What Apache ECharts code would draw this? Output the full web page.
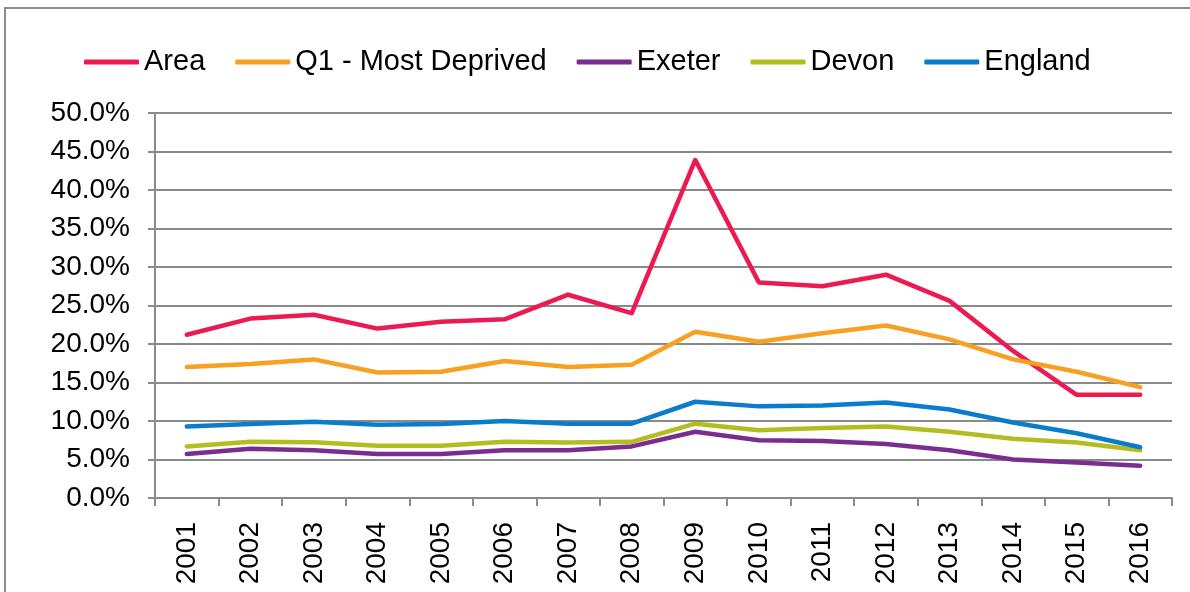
<!DOCTYPE html>
<html>
<head>
<meta charset="utf-8">
<script src="https://cdn.jsdelivr.net/npm/echarts@6/dist/echarts.min.js"></script>
<style>
  body { margin: 0; background: #fff; }
  #wrap { position: relative; width: 1190px; height: 592px; }
  #chart { width: 1190px; height: 592px; }
  #frame { position: absolute; left: 4px; top: 7px; right: -10px; bottom: -10px;
           border-left: 2px solid #8c8c8c; border-top: 2px solid #8c8c8c; pointer-events: none; }
</style>
</head>
<body>
<div id="wrap">
  <div id="chart"></div>
  <div id="frame"></div>
</div>
<script>
// values, in percent
const years = ['2001', '2002', '2003', '2004', '2005', '2006', '2007', '2008',
               '2009', '2010', '2011', '2012', '2013', '2014', '2015', '2016'];
const area    = [21.2, 23.3, 23.8, 22.0, 22.9, 23.2, 26.4, 24.0, 43.9, 28.0, 27.5, 29.0, 25.6, 19.1, 13.4, 13.4];
const q1      = [17.0, 17.4, 18.0, 16.3, 16.4, 17.8, 17.0, 17.3, 21.6, 20.3, 21.4, 22.4, 20.6, 18.0, 16.4, 14.4];
const exeter  = [5.7, 6.4, 6.2, 5.7, 5.7, 6.2, 6.2, 6.7, 8.6, 7.5, 7.4, 7.0, 6.2, 5.0, 4.6, 4.2];
const devon   = [6.7, 7.3, 7.25, 6.8, 6.8, 7.3, 7.2, 7.3, 9.65, 8.8, 9.1, 9.3, 8.6, 7.7, 7.2, 6.2];
const england = [9.3, 9.6, 9.9, 9.5, 9.6, 10.0, 9.65, 9.65, 12.5, 11.9, 12.0, 12.4, 11.5, 9.8, 8.4, 6.6];

const font = 'Arial, "Liberation Sans", sans-serif';
const gridGrey = '#8a8a8a';

function line(name, data, color) {
    return {
        name: name,
        type: 'line',
        data: data,
        symbol: 'none',
        lineStyle: { width: 4.5, color: color, cap: 'round', join: 'round' },
        itemStyle: { color: color },
        animation: false
    };
}

let option = {
    textStyle: { fontFamily: font },
    legend: {
        left: 79,
        top: 42,
        itemWidth: 55,
        itemHeight: 5,
        itemGap: 30,
        icon: 'roundRect',
        textStyle: { fontSize: 29, color: '#000', fontFamily: font, lineHeight: 30 },
        data: ['Area', 'Q1 - Most Deprived', 'Exeter', 'Devon', 'England']
    },
    grid: {
        left: 155,
        right: 18,
        top: 113,
        bottom: 94
    },
    xAxis: {
        type: 'category',
        data: years,
        boundaryGap: true,
        axisLine: { lineStyle: { color: gridGrey, width: 2 } },
        axisTick: { show: true, length: 8, interval: 0, alignWithLabel: false, lineStyle: { color: gridGrey, width: 2 } },
        axisLabel: { rotate: 90, margin: 24, fontSize: 28, color: '#000', fontFamily: font, interval: 0 }
    },
    yAxis: {
        type: 'value',
        min: 0,
        max: 50,
        interval: 5,
        axisLine: { show: true, lineStyle: { color: gridGrey, width: 2 } },
        axisTick: { show: true, length: 7, lineStyle: { color: gridGrey, width: 2 } },
        splitLine: { lineStyle: { color: gridGrey, width: 2 } },
        axisLabel: {
            margin: 25, fontSize: 28, color: '#000', fontFamily: font,
            formatter: v => v.toFixed(1) + '%'
        }
    },
    series: [
        line('Area', area, '#ec1a52'),
        line('Q1 - Most Deprived', q1, '#f7a021'),
        line('Exeter', exeter, '#7b2c8f'),
        line('Devon', devon, '#b4bd20'),
        line('England', england, '#0a7ccb')
    ]
};

let myChart = echarts.init(document.getElementById('chart'));
myChart.setOption(option);
</script>
</body>
</html>
